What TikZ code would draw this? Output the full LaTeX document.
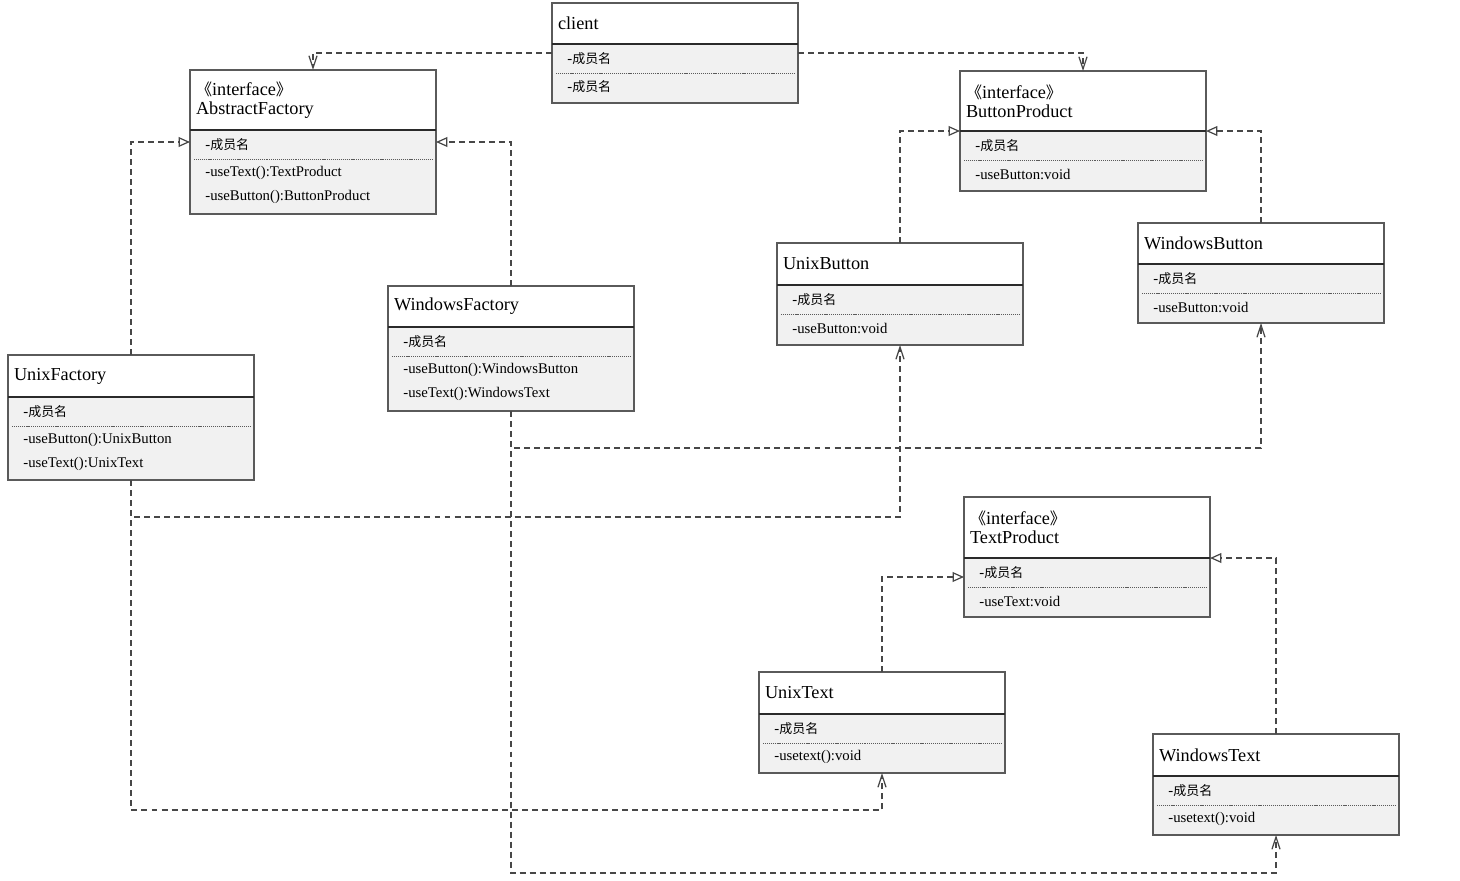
\documentclass[tikz,border=0pt]{standalone}
\usepackage{fontspec}
\setmainfont{Liberation Serif}
\newfontfamily\cjk[Scale=0.88]{Noto Sans CJK SC}
\usetikzlibrary{arrows.meta,calc}
\definecolor{edge}{HTML}{5A5A5A}
\definecolor{headline}{HTML}{2A2A2A}
\definecolor{bodyfill}{HTML}{F1F1F1}
\definecolor{link}{HTML}{474747}
\def\pu{0.02cm}   % one pixel of the sketch
\tikzset{
  head/.style={draw=edge, line width=0.8pt, fill=white, anchor=north west, outer sep=0pt,
               minimum width=246*\pu, text width=234*\pu, inner xsep=6*\pu, align=left,
               font=\fontsize{10.4}{11}\selectfont},
  body/.style={draw=edge, line width=0.8pt, fill=bodyfill, anchor=north west, outer sep=0pt,
               minimum width=246*\pu, inner sep=0pt},
  member/.style={anchor=west, inner sep=0pt, font=\fontsize{8.4}{9}\selectfont},
  sep/.style={draw=edge, line width=0.4pt, dash pattern=on 0.6pt off 0.5pt},
  dep/.style={draw=link, line width=0.7pt, dash pattern=on 3.4pt off 2.3pt,
              -{Straight Barb[length=7pt,width=4.6pt]}},
  real/.style={draw=link, line width=0.7pt, dash pattern=on 3.4pt off 2.3pt,
               -{Triangle[open,length=6.5pt,width=5.6pt,fill=white]}},
}
% name, x, y, header height, body height, header text, methods
\newcommand{\umlclass}[7]{%
  \node[head, minimum height=#4*\pu] (#1) at (#2,#3) {#6};
  \node[body, minimum height=#5*\pu] (#1-b) at (#1.south west) {};
  \draw[headline, line width=0.8pt] (#1.south west) -- (#1.south east);
  \node[member] (#1-a) at ([xshift=15*\pu, yshift=-15*\pu]#1-b.north west) {-{\cjk 成员名}};
  \draw[sep] ([xshift=4*\pu, yshift=-29*\pu]#1-b.north west) -- ([xshift=-4*\pu, yshift=-29*\pu]#1-b.north east);
  \foreach \m [count=\k] in {#7}
    \node[member] (#1-m\k) at ([xshift=15*\pu, yshift={-(19+24*\k)*\pu}]#1-b.north west) {\m};
}
\begin{document}
\begin{tikzpicture}[x=\pu, y=-\pu]
\useasboundingbox (0,0) rectangle (1460,880);

% ---- classes -----------------------------------------------------------------
\umlclass{client}{552}{3}{41}{59}{client}{-{\cjk 成员名}}
\umlclass{af}{190}{70}{60}{84}{{\cjk 《}interface{\cjk 》}\\AbstractFactory}{-useText():TextProduct,-useButton():ButtonProduct}
\umlclass{bp}{960}{71}{60}{60}{{\cjk 《}interface{\cjk 》}\\ButtonProduct}{-useButton:void}
\umlclass{ub}{777}{243}{42}{60}{UnixButton}{-useButton:void}
\umlclass{wb}{1138}{223}{41}{59}{WindowsButton}{-useButton:void}
\umlclass{wf}{388}{286}{41}{84}{WindowsFactory}{-useButton():WindowsButton,-useText():WindowsText}
\umlclass{uf}{8}{355}{42}{83}{UnixFactory}{-useButton():UnixButton,-useText():UnixText}
\umlclass{tp}{964}{497}{61}{59}{{\cjk 《}interface{\cjk 》}\\TextProduct}{-useText:void}
\umlclass{ut}{759}{672}{42}{59}{UnixText}{-usetext():void}
\umlclass{wt}{1153}{734}{42}{59}{WindowsText}{-usetext():void}

% ---- client uses the interfaces -------------------------------------------------
\draw[dep] ([yshift=-9*\pu]client-b.north west) -| (af.north);
\draw[dep] ([yshift=-9*\pu]client-b.north east) -| (bp.north);

% ---- realizations -------------------------------------------------------------
\draw[real] (uf.north) |- ([yshift=-12*\pu]af-b.north west);
\draw[real] (wf.north) |- ([yshift=-12*\pu]af-b.north east);
\draw[real] (ub.north) |- (bp.south west);
\draw[real] (wb.north) |- (bp.south east);
\draw[real] (ut.north) |- ([yshift=-19*\pu]tp-b.north west);
\draw[real] (wt.north) |- (tp.south east);

% ---- factories create products ------------------------------------------------
\draw[dep] (uf-b.south) -- ++(0,37) -| (ub-b.south);
\draw[dep] (uf-b.south) -- ++(0,330) -| (ut-b.south);
\draw[dep] (wf-b.south) -- ++(0,37) -| (wb-b.south);
\draw[dep] (wf-b.south) -- ++(0,462) -| (wt-b.south);
\end{tikzpicture}
\end{document}
